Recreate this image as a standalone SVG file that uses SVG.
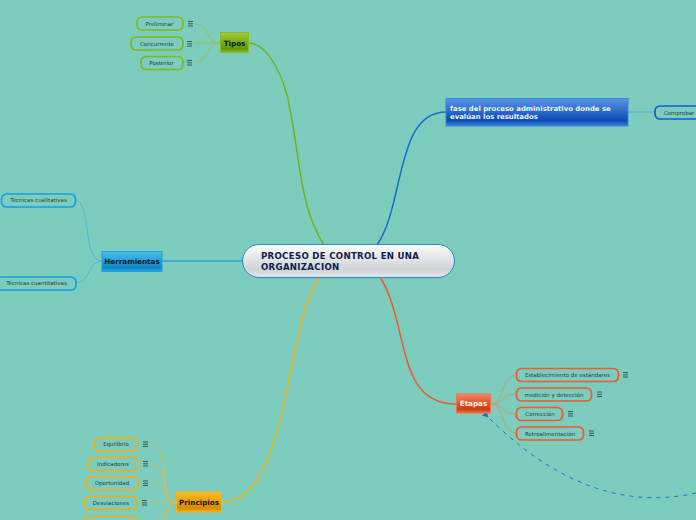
<svg xmlns="http://www.w3.org/2000/svg" width="696" height="520" viewBox="0 0 696 520">
<defs>
<linearGradient id="gc" x1="0" y1="0" x2="0" y2="1"><stop offset="0" stop-color="#fbfcfc"/><stop offset=".75" stop-color="#d0d4d6"/><stop offset="1" stop-color="#e4e7e8"/></linearGradient>
<linearGradient id="gg" x1="0" y1="0" x2="0" y2="1"><stop offset="0" stop-color="#a2cc3a"/><stop offset=".8" stop-color="#5f9a08"/><stop offset="1" stop-color="#8cba20"/></linearGradient>
<linearGradient id="gb" x1="0" y1="0" x2="0" y2="1"><stop offset="0" stop-color="#5b96e6"/><stop offset=".8" stop-color="#0a4bb4"/><stop offset="1" stop-color="#3f7fdc"/></linearGradient>
<linearGradient id="gt" x1="0" y1="0" x2="0" y2="1"><stop offset="0" stop-color="#4cc0ee"/><stop offset=".8" stop-color="#0f85c4"/><stop offset="1" stop-color="#2aa8e4"/></linearGradient>
<linearGradient id="gr" x1="0" y1="0" x2="0" y2="1"><stop offset="0" stop-color="#f58460"/><stop offset=".8" stop-color="#cc3c12"/><stop offset="1" stop-color="#ee6a40"/></linearGradient>
<linearGradient id="gy" x1="0" y1="0" x2="0" y2="1"><stop offset="0" stop-color="#fbbc22"/><stop offset=".8" stop-color="#d68e00"/><stop offset="1" stop-color="#f4ae14"/></linearGradient>
<marker id="arr" markerWidth="7" markerHeight="7" refX="5" refY="3" orient="auto"><path d="M6 0L0 3L6 6Z" fill="#1f6fd0"/></marker>
</defs>
<style>
text{font-family:"DejaVu Sans",sans-serif}
.leaf{font-size:5.5px;fill:#1f4044;text-anchor:middle}
.pill{fill:#7dcdbf;stroke-width:1.7}
.br{fill:none;stroke-width:1}
.main{fill:none;stroke-width:1.5}
.h{font-size:7.2px;font-weight:bold;text-anchor:middle}
.m{stroke:#2b5a5c;stroke-width:1;fill:none}
</style>
<rect width="696" height="520" fill="#7dcdbf"/>
<g id="connectors">
<path class="main" stroke="#6fb41e" d="M324 245C298 205 300 150 287 95C278 62 262 43 249 43"/>
<path class="main" stroke="#1470cf" d="M377 245C405 205 395 112 446 112"/>
<path class="main" stroke="#2ca6dd" d="M243 261H162"/>
<path class="main" stroke="#ee5a2c" d="M380 277C410 325 395 404 456 404"/>
<path class="main" stroke="#eeb416" d="M320 277C285 320 290 502 222 502"/>
<path class="br" stroke="#9dc24b" d="M195 24C210 24 205 43 220 43M195 43H220M195 62C210 62 205 43 220 43"/>
<path class="br" stroke="#5aa6d8" d="M628 112H655"/>
<path class="br" stroke="#4db6dc" d="M76 200C92 205 82 261 102 261M76 283C90 283 88 261 102 261"/>
<path class="br" stroke="#cf9a6c" d="M491 404C505 404 500 375 516 375M491 404C505 404 500 394 516 394M491 404C505 404 500 414 516 414M491 404C505 404 500 433 516 433"/>
<path class="br" stroke="#d4bd50" d="M150 444C172 444 158 502 176 502M150 464C170 464 160 502 176 502M150 483C168 483 162 502 176 502M150 502H176M165 520C168 512 170 502 176 502M158 520C166 512 170 502 176 502"/>
<path fill="none" stroke="#1f6fd0" stroke-width="1" stroke-dasharray="4 5" marker-end="url(#arr)" d="M696 493C620 510 550 480 485 414"/>
</g>
<g id="center"><rect x="242.500" y="244.500" width="212" height="33" rx="16.500" fill="url(#gc)" stroke="#2e86c8"/><text x="261" y="259" font-size="8.6" font-weight="bold" letter-spacing=".3" fill="#10204e">PROCESO DE CONTROL EN UNA</text><text x="261" y="270" font-size="8.6" font-weight="bold" letter-spacing=".3" fill="#10204e">ORGANIZACION</text></g>
<g id="tipos"><rect x="220.500" y="32.500" width="28" height="20" fill="url(#gg)" stroke="#8cba20"/><text class="h" x="234.500" y="45.500" fill="#0a1a05">Tipos</text></g>
<g id="preliminar"><rect x="137" y="17" width="46" height="13" rx="5" class="pill" stroke="#80b81a"/><text class="leaf" x="159.500" y="26">Preliminar</text><path class="m" d="M188 21.500h5M188 23.800h5M188 26h5"/></g>
<g id="concurrente"><rect x="131" y="37" width="52" height="13" rx="5" class="pill" stroke="#80b81a"/><text class="leaf" x="157" y="45.500">Concurrente</text><path class="m" d="M187 41.500h5M187 43.800h5M187 46h5"/></g>
<g id="posterior"><rect x="141" y="56.500" width="42" height="13" rx="5" class="pill" stroke="#80b81a"/><text class="leaf" x="161.500" y="65">Posterior</text><path class="m" d="M187 60.500h5M187 62.800h5M187 65h5"/></g>
<g id="fase"><rect x="446" y="98.500" width="182" height="27.500" fill="url(#gb)" stroke="#3a86de"/><text x="450" y="111" font-size="6.900" font-weight="bold" fill="#eef4fc">fase del proceso administrativo donde se</text><text x="450" y="119" font-size="6.900" font-weight="bold" fill="#eef4fc">evalúan los resultados</text></g>
<g id="comprobar"><rect x="655" y="106" width="50" height="13" rx="5" class="pill" stroke="#0f62c8"/><text class="leaf" x="679" y="115">Comprobar</text></g>
<g id="herramientas"><rect x="102" y="251.500" width="60" height="20" fill="url(#gt)" stroke="#1ea0e2"/><text class="h" x="132" y="264" fill="#061a2a">Herramientas</text></g>
<g id="cualitativas"><rect x="1.500" y="194" width="74" height="13" rx="5" class="pill" stroke="#12a0e0"/><text class="leaf" x="38.500" y="202">Técnicas cualitativas</text></g>
<g id="cuantitativas"><rect x="-4" y="277" width="80" height="13" rx="5" class="pill" stroke="#12a0e0"/><text class="leaf" x="36.500" y="285">Técnicas cuantitativas</text></g>
<g id="etapas"><rect x="456.500" y="394" width="34" height="19" fill="url(#gr)" stroke="#f0734c"/><text class="h" x="473.500" y="406" fill="#fdf2ec">Etapas</text></g>
<g id="estandares"><rect x="516.500" y="368.500" width="102" height="13" rx="5" class="pill" stroke="#ee5a2c"/><text class="leaf" x="567.500" y="377">Establecimiento de estándares</text><path class="m" d="M623 372.500h5M623 374.800h5M623 377h5"/></g>
<g id="medicion"><rect x="516.500" y="388" width="75" height="13" rx="5" class="pill" stroke="#ee5a2c"/><text class="leaf" x="554" y="396.500">medición y detección</text><path class="m" d="M597 392h5M597 394.300h5M597 396.500h5"/></g>
<g id="correccion"><rect x="516.500" y="407.500" width="46" height="13" rx="5" class="pill" stroke="#ee5a2c"/><text class="leaf" x="540" y="416">Corrección</text><path class="m" d="M568 411.500h5M568 413.800h5M568 416h5"/></g>
<g id="retroalimentacion"><rect x="516.500" y="427" width="67" height="13" rx="5" class="pill" stroke="#ee5a2c"/><text class="leaf" x="550" y="435.500">Retroalimentación</text><path class="m" d="M589 431h5M589 433.300h5M589 435.500h5"/></g>
<g id="principios"><rect x="176.500" y="492" width="45" height="20" fill="url(#gy)" stroke="#f4b41c"/><text class="h" x="199" y="505" fill="#1a1204">Principios</text></g>
<g id="equilibrio"><rect x="94.500" y="438" width="43" height="13" rx="5" class="pill" stroke="#f2ae10"/><text class="leaf" x="116" y="446">Equilibrio</text><path class="m" d="M143 442h5M143 444.300h5M143 446.500h5"/></g>
<g id="indicadores"><rect x="88" y="457.500" width="50" height="13" rx="5" class="pill" stroke="#f2ae10"/><text class="leaf" x="113" y="466">Indicadores</text><path class="m" d="M143 461.500h5M143 463.800h5M143 466h5"/></g>
<g id="oportunidad"><rect x="86" y="477" width="52" height="13" rx="5" class="pill" stroke="#f2ae10"/><text class="leaf" x="112" y="485">Oportunidad</text><path class="m" d="M143 481h5M143 483.300h5M143 485.500h5"/></g>
<g id="desviaciones"><rect x="84.500" y="496.500" width="53" height="13" rx="5" class="pill" stroke="#f2ae10"/><text class="leaf" x="111" y="505">Desviaciones</text><path class="m" d="M142 500.500h5M142 502.800h5M142 505h5"/></g>
<g id="clipped"><rect x="83" y="516.500" width="55" height="13" rx="5" class="pill" stroke="#f2ae10"/></g>
</svg>
